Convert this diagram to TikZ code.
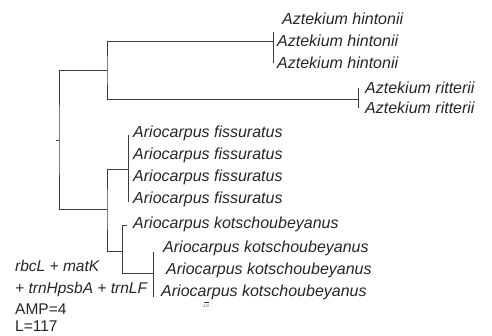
\documentclass[tikz,border=0pt]{standalone}
\usepackage{fontspec}
\setmainfont{Liberation Sans}
\usepackage{xcolor}
\usepackage{tikz}
\usetikzlibrary{positioning}
\definecolor{TaxText}{RGB}{38, 38, 38}
\definecolor{TreeLine}{RGB}{60, 60, 60}

\begin{document}
\begin{tikzpicture}[x=1pt, y=-1pt, font=\fontsize{15.5}{18}\selectfont,
  br/.style={draw=TreeLine, line width=0.9pt},
  taxon/.style={anchor=west, inner sep=0pt, text=TaxText, font=\fontsize{16}{18}\selectfont\itshape},
  info/.style={anchor=west, inner sep=0pt, text=TaxText}]
  \useasboundingbox (0,0) rectangle (492,335);

  % --- internal nodes ---
  \coordinate (root) at (59,140);
  \coordinate (stub) at (56,140);
  \coordinate (nAz)  at (107,70);
  \coordinate (nAr)  at (107,209);
  \coordinate (hin)  at (273,41);
  \coordinate (rit)  at (358,99);
  \coordinate (fis)  at (128,169);
  \coordinate (kot)  at (122.7,251);
  \coordinate (kotB) at (153,273);

  % --- backbone ---
  \draw[br] (nAz) -| (root) |- (nAr);
  \draw[br] (root) -- (stub);
  \draw[br] (hin) -| (nAz) |- (rit);
  \draw[br] (fis) -| (nAr) |- (kot);
  \draw[br] (127,225) -| (kot) |- (kotB);

  % --- Aztekium ---
  \draw[br] (273,32) -- (273,63);
  \node[taxon] (hin1) at (282,19) {Aztekium hintonii};
  \node[taxon] (hin2) at (277,41) {Aztekium hintonii};
  \node[taxon] (hin3) at (277,63) {Aztekium hintonii};
  \draw[br] (358,88) -- (358,108);
  \node[taxon] (rit1) at (365,88)  {Aztekium ritterii};
  \node[taxon] (rit2) at (365,108) {Aztekium ritterii};

  % --- Ariocarpus ---
  \draw[br] (128,135) -- (128,202);
  \foreach \y [count=\i] in {133,155,177,199}
    \node[taxon] (fis\i) at (133,\y) {Ariocarpus fissuratus};
  \node[taxon] (kot1) at (133,224) {Ariocarpus kotschoubeyanus};
  \draw[br] (153,252) -- (153,297);
  \node[taxon] (kot2) at (163,248) {Ariocarpus kotschoubeyanus};
  \node[taxon] (kot3) at (166,270) {Ariocarpus kotschoubeyanus};
  \node[taxon] (kot4) at (161,292) {Ariocarpus kotschoubeyanus};

  % --- scale and markers ---
  \node[inner sep=0pt, font=\fontsize{4}{4}\selectfont, text=TaxText] (scl) at (206,306) {1.0};
  \draw[TreeLine, line width=0.4pt] (203.5,302.5) -- (208.5,302.5);
  \node[info, font=\fontsize{15.5}{18}\selectfont\itshape] (mk1) at (15,266) {rbcL + matK};
  \node[info, font=\fontsize{15.5}{18}\selectfont\itshape] (mk2) at (15,289) {+ trnHpsbA + trnLF};
  \node[info] (amp) at (15,309.5) {AMP=4};
  \node[info] (len) at (15,326.5) {L=117};
\end{tikzpicture}
\end{document}
